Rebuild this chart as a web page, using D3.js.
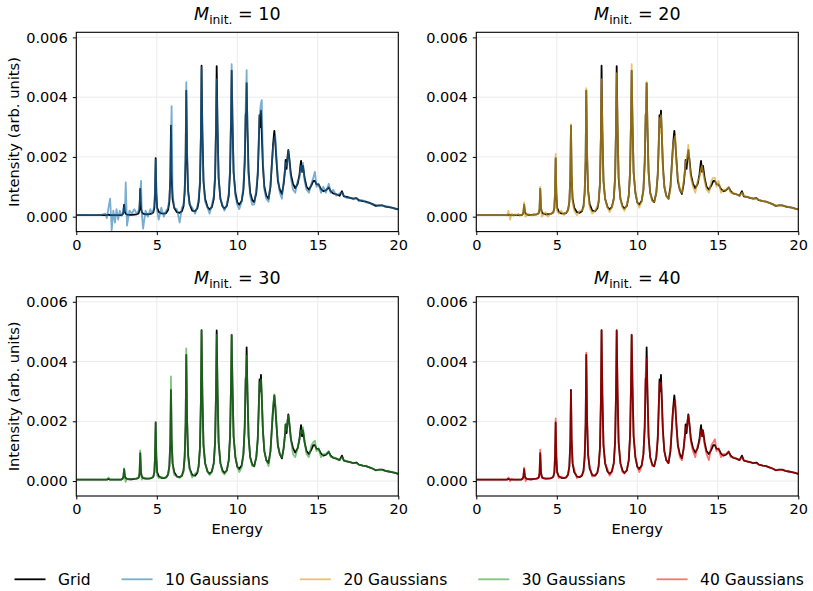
<!DOCTYPE html>
<html>
<head>
<meta charset="utf-8">
<script src="https://cdn.jsdelivr.net/npm/d3@7"></script>
<style>
    body { margin: 0; background: #fff; }
    text { font-family: "DejaVu Sans", sans-serif; fill: #000; }
    .tick text { font-size: 14.5px; }
    .tick line { stroke: #000; }
    .gridline { stroke: #ebebeb; stroke-width: 1; }
    .spec { fill: none; stroke-width: 1.8px; stroke-linejoin: round; }
</style>
</head>
<body>
<div id="chart"></div>

<script>

    // energy sample points (shared by every spectrum)
    var energy = [
        0, 0.5, 1.0, 1.5, 1.8, 1.9, 2.0, 2.1, 2.2, 2.3, 2.4, 2.5, 2.6, 2.7, 2.8,
        2.88, 2.93, 2.97, 3.02, 3.07, 3.15, 3.3, 3.45, 3.6, 3.75,
        3.87, 3.93, 3.97, 4.02, 4.07, 4.15, 4.3, 4.45, 4.6, 4.7,
        4.78, 4.85, 4.89, 4.93, 4.97, 5.02, 5.12, 5.28, 5.44, 5.58,
        5.7, 5.78, 5.84, 5.88, 5.92, 5.98, 6.08, 6.25, 6.42, 6.56,
        6.66, 6.73, 6.79, 6.83, 6.88, 6.94, 7.04, 7.2, 7.38, 7.52,
        7.6, 7.68, 7.74, 7.78, 7.83, 7.9, 8.0, 8.15, 8.28, 8.42,
        8.54, 8.62, 8.68, 8.72, 8.77, 8.84, 8.95, 9.08, 9.2, 9.35,
        9.47, 9.55, 9.61, 9.65, 9.7, 9.77, 9.88, 10.0, 10.12, 10.27,
        10.38, 10.46, 10.52, 10.55, 10.58, 10.63, 10.7, 10.8, 10.93, 11.05, 11.18,
        11.27, 11.33, 11.38, 11.43, 11.47, 11.52, 11.59, 11.68, 11.8, 11.94, 12.06,
        12.14, 12.22, 12.3, 12.36, 12.43, 12.52, 12.64, 12.77, 12.88,
        12.97, 13.0, 13.06, 13.12, 13.17, 13.24, 13.33, 13.46, 13.6, 13.75,
        13.86, 13.92, 13.96, 14.02, 14.08, 14.18, 14.3, 14.45,
        14.6, 14.72, 14.82, 14.92, 15.05, 15.2, 15.35, 15.5, 15.68, 15.8, 15.95, 16.15, 16.35, 16.5, 16.62, 16.8,
        17.0, 17.2, 17.4, 17.55, 17.8, 18.0, 18.2, 18.4, 18.6, 18.8, 19.0, 19.2, 19.4, 19.6, 19.8, 20.0
    ];

    var gridSpec = [
        0.00005, 0.00005, 0.00005, 0.00005, 0.00005, 0.00005, 0.00007, 0.00005, 0.00005, 0.00005, 0.00005, 0.00005, 0.00005, 0.00005, 0.00005,
        0.00008, 0.00015, 0.0004, 0.00016, 0.0001, 0.00007, 0.00006, 0.00006, 0.00007, 0.00008,
        0.00011, 0.00025, 0.00093, 0.00028, 0.00015, 0.0001, 0.00008, 0.00008, 0.00009, 0.00011,
        0.00014, 0.0003, 0.0008, 0.00196, 0.0008, 0.0003, 0.00016, 0.00011, 0.0001, 0.00012,
        0.00022, 0.0005, 0.0013, 0.00305, 0.0014, 0.0006, 0.0003, 0.00015, 0.00013, 0.00018,
        0.00035, 0.0008, 0.0019, 0.00422, 0.0021, 0.0009, 0.00042, 0.0002, 0.00018, 0.00028,
        0.0005, 0.0011, 0.0027, 0.00505, 0.0029, 0.0012, 0.0006, 0.00032, 0.00024, 0.00032,
        0.0006, 0.0013, 0.003, 0.00504, 0.0031, 0.0013, 0.0006, 0.00035, 0.00027, 0.00036,
        0.0007, 0.0015, 0.0032, 0.00489, 0.0032, 0.0015, 0.0008, 0.00048, 0.0004, 0.00052,
        0.0009, 0.0018, 0.0034, 0.0035, 0.00447, 0.003, 0.0015, 0.0008, 0.00055, 0.00049, 0.0008,
        0.0014, 0.0024, 0.0034, 0.003, 0.00355, 0.0028, 0.0017, 0.001, 0.0007, 0.0006, 0.001,
        0.0017, 0.0024, 0.00287, 0.0025, 0.0019, 0.0012, 0.0009, 0.00076, 0.0011,
        0.0016, 0.0019, 0.0016, 0.002, 0.00223, 0.0019, 0.0014, 0.0011, 0.00095, 0.0011,
        0.0014, 0.0017, 0.00187, 0.0015, 0.0017, 0.0013, 0.001, 0.0009,
        0.00105, 0.0012, 0.0012, 0.00108, 0.00108, 0.00092, 0.00085, 0.00088, 0.00098, 0.00085, 0.00078, 0.00075, 0.0007, 0.00085, 0.00068, 0.00066,
        0.00063, 0.0006, 0.00062, 0.00055, 0.00052, 0.0005, 0.00046, 0.00042, 0.00036, 0.00038, 0.00038, 0.00034, 0.00032, 0.0003, 0.00027, 0.00024
    ];

    var gauss10 = [
        0.00005, 0.00005, 0.00006, 0.00005, 0.0001, -0.00005, 0.0003, 0.0006, -0.00045, 0.0002, -0.0002, 0.00025, -0.0001, 0.0002, 0.00003,
        0.0001, 0.0003, 0.00015, 0.0002, 0.00115, -0.0003, 0.0002, 0.0001, 0.00025, 0.0001,
        0.0002, 0.0004, 0.0008, 0.0012, 0.0001, -0.0004, 0.0002, 0.0, 0.00025, 0.0001,
        0.0002, 0.0004, 0.0009, 0.0019, 0.0009, 0.0002, -0.0001, 0.0003, 0.0, 0.0002,
        0.0003, 0.0006, 0.0012, 0.0026, 0.0037, 0.0008, 0.0003, 0.00025, -0.0002, 0.0003,
        0.0004, 0.0009, 0.0022, 0.0045, 0.0022, 0.0008, 0.0004, 0.0003, 0.0001, 0.00035,
        0.0006, 0.0012, 0.0028, 0.005, 0.0027, 0.0012, 0.0005, 0.0003, 0.0001, 0.0004,
        0.0007, 0.0014, 0.0031, 0.0046, 0.003, 0.0013, 0.0006, 0.0004, 0.0002, 0.0004,
        0.0008, 0.0016, 0.0034, 0.0051, 0.0033, 0.0015, 0.0007, 0.0004, 0.00025, 0.0005,
        0.001, 0.0019, 0.0036, 0.0042, 0.0049, 0.0028, 0.0014, 0.0007, 0.0004, 0.0004, 0.0009,
        0.0015, 0.0025, 0.0033, 0.0036, 0.0038, 0.0039, 0.0019, 0.0009, 0.0006, 0.0005, 0.0011,
        0.0017, 0.0023, 0.0026, 0.0027, 0.002, 0.0013, 0.0008, 0.0006, 0.0012,
        0.0016, 0.0018, 0.0017, 0.0019, 0.0022, 0.0018, 0.0013, 0.0009, 0.0008, 0.0012,
        0.0013, 0.0016, 0.0017, 0.0015, 0.0018, 0.0012, 0.0009, 0.0008,
        0.0011, 0.0013, 0.0015, 0.001, 0.0011, 0.0008, 0.001, 0.0008, 0.0011, 0.0008, 0.0009, 0.0007, 0.00078, 0.0008, 0.0007, 0.00062,
        0.00064, 0.00058, 0.00063, 0.00052, 0.00055, 0.00047, 0.00048, 0.0004, 0.0004, 0.00035, 0.00038, 0.00032, 0.00034, 0.00029, 0.00028, 0.00024
    ];

    var gauss20 = [
        0.00005, 0.00005, 0.00005, 0.00005, 0.00005, 0.00004, 0.0002, -0.0001, 0.0001, 0.00003, 0.00008, 0.00005, 0.0001, 0.00003, 0.00006,
        0.00008, 0.0002, 0.00048, 0.0001, 0.0, 0.0001, 0.00008, 0.00004, 0.0001, 0.00006,
        0.00012, 0.0003, 0.001, 0.0003, 0.0, 0.00005, 0.00015, 0.0, 0.0001, 0.00012,
        0.00012, 0.0003, 0.0009, 0.0021, 0.0009, 0.0002, 0.0001, 0.0002, 0.00005, 0.00015,
        0.0002, 0.0005, 0.0014, 0.0031, 0.0015, 0.0005, 0.0002, 0.00005, 0.0002, 0.0002,
        0.0003, 0.0008, 0.002, 0.0043, 0.0022, 0.0009, 0.0003, 0.0001, 0.0002, 0.00035,
        0.0005, 0.0011, 0.0027, 0.0046, 0.0029, 0.0012, 0.0006, 0.0003, 0.00015, 0.0003,
        0.0006, 0.0013, 0.003, 0.0048, 0.0031, 0.0014, 0.0006, 0.0003, 0.0002, 0.0004,
        0.0007, 0.0015, 0.0033, 0.0051, 0.0032, 0.0015, 0.0008, 0.0005, 0.0003, 0.0005,
        0.0009, 0.0018, 0.0034, 0.0036, 0.0045, 0.003, 0.0015, 0.0008, 0.0005, 0.0005, 0.0008,
        0.0014, 0.0024, 0.0033, 0.0028, 0.0034, 0.0029, 0.0016, 0.001, 0.0007, 0.0006, 0.0009,
        0.0017, 0.0024, 0.0026, 0.0027, 0.0018, 0.0013, 0.0009, 0.0008, 0.0012,
        0.0016, 0.0018, 0.0019, 0.0021, 0.0024, 0.0018, 0.0013, 0.001, 0.0008, 0.0012,
        0.0013, 0.0015, 0.0016, 0.0017, 0.0015, 0.0012, 0.0009, 0.0008,
        0.0012, 0.0013, 0.0013, 0.001, 0.0012, 0.0008, 0.0009, 0.0009, 0.001, 0.0008, 0.0008, 0.00074, 0.0007, 0.0008, 0.0007, 0.00066,
        0.00064, 0.0006, 0.0006, 0.00056, 0.00052, 0.0005, 0.00046, 0.00042, 0.00037, 0.00037, 0.00037, 0.00034, 0.00032, 0.0003, 0.00027, 0.00024
    ];

    var gauss30 = [
        0.00005, 0.00005, 0.00005, 0.00005, 0.00005, 0.00005, 0.00012, 0.00004, 0.00005, 0.00005, 0.00005, 0.00005, 0.00005, 0.00005, 0.00005,
        0.00008, 0.00018, 0.00042, 0.0001, -0.00003, 0.00008, 0.00006, 0.00007, 0.00008, 0.00009,
        0.00012, 0.0003, 0.00103, 0.0003, 0.00005, 0.00012, 0.0001, 0.00007, 0.0001, 0.00012,
        0.00014, 0.0003, 0.0008, 0.00198, 0.0008, 0.0002, 0.0001, 0.00014, 0.0001, 0.00013,
        0.0002, 0.0005, 0.0014, 0.0035, 0.0015, 0.0006, 0.0002, 0.00015, 0.0001, 0.0002,
        0.0003, 0.0008, 0.002, 0.00444, 0.0021, 0.0008, 0.0004, 0.00012, 0.00025, 0.0003,
        0.0005, 0.0011, 0.0027, 0.00505, 0.0029, 0.0012, 0.0006, 0.0003, 0.0002, 0.0003,
        0.0006, 0.0013, 0.003, 0.0049, 0.0031, 0.0013, 0.0006, 0.0003, 0.00022, 0.00036,
        0.0007, 0.0015, 0.0032, 0.0049, 0.0032, 0.0015, 0.0008, 0.0005, 0.0003, 0.00045,
        0.0009, 0.0018, 0.0035, 0.0036, 0.0042, 0.003, 0.0015, 0.0008, 0.0005, 0.0005, 0.0008,
        0.0014, 0.0024, 0.0033, 0.003, 0.0034, 0.0028, 0.0017, 0.001, 0.0007, 0.0005, 0.001,
        0.0017, 0.0025, 0.0029, 0.0026, 0.0019, 0.0012, 0.0009, 0.0008, 0.0011,
        0.0016, 0.0019, 0.0017, 0.002, 0.0022, 0.0019, 0.0014, 0.0009, 0.0008, 0.0011,
        0.0014, 0.0016, 0.0017, 0.0016, 0.0018, 0.0013, 0.0009, 0.0008,
        0.0012, 0.0013, 0.00135, 0.001, 0.0011, 0.0008, 0.0009, 0.0009, 0.001, 0.0008, 0.0008, 0.00075, 0.0007, 0.0008, 0.0007, 0.00066,
        0.00063, 0.0006, 0.0006, 0.00055, 0.00052, 0.0005, 0.00046, 0.00042, 0.00037, 0.00037, 0.00037, 0.00034, 0.00032, 0.0003, 0.00027, 0.00024
    ];

    var gauss40 = [
        0.00005, 0.00005, 0.00005, 0.00005, 0.00005, 0.00005, 0.00012, 0.0, 0.00008, 0.00005, 0.00005, 0.00005, 0.00005, 0.00005, 0.00005,
        0.00008, 0.00018, 0.00045, 0.00012, 0.0, 0.00008, 0.00006, 0.00006, 0.00007, 0.00008,
        0.00012, 0.0003, 0.00105, 0.0003, 0.0001, 0.0001, 0.00008, 0.00009, 0.0001, 0.00012,
        0.00014, 0.0003, 0.0009, 0.0021, 0.0009, 0.0003, 0.0001, 0.00015, 0.0001, 0.00012,
        0.0002, 0.0005, 0.0013, 0.003, 0.0014, 0.0006, 0.0004, 0.0001, 0.00015, 0.0002,
        0.0003, 0.0008, 0.002, 0.0043, 0.0021, 0.0009, 0.0005, 0.00015, 0.0002, 0.0003,
        0.0005, 0.0011, 0.0027, 0.00505, 0.0029, 0.0012, 0.0006, 0.0004, 0.00018, 0.0003,
        0.0006, 0.0013, 0.003, 0.00505, 0.0031, 0.0013, 0.0006, 0.0003, 0.00025, 0.00036,
        0.0007, 0.0015, 0.0032, 0.0049, 0.0033, 0.0016, 0.0008, 0.0005, 0.0003, 0.0005,
        0.0009, 0.0018, 0.0036, 0.0037, 0.0041, 0.0029, 0.0015, 0.0008, 0.0005, 0.0005, 0.0008,
        0.0015, 0.0025, 0.0033, 0.0032, 0.0033, 0.0026, 0.0016, 0.001, 0.0007, 0.0006, 0.0011,
        0.0017, 0.0024, 0.0026, 0.0027, 0.0018, 0.0012, 0.0008, 0.0007, 0.0011,
        0.0016, 0.0018, 0.0017, 0.002, 0.0022, 0.0019, 0.0013, 0.001, 0.0008, 0.0012,
        0.0013, 0.0016, 0.0017, 0.0015, 0.0017, 0.0012, 0.0009, 0.0007,
        0.0012, 0.0013, 0.0014, 0.001, 0.0011, 0.0008, 0.0009, 0.0009, 0.001, 0.0008, 0.0008, 0.00075, 0.0007, 0.0008, 0.0007, 0.00066,
        0.00063, 0.0006, 0.0006, 0.00055, 0.00052, 0.0005, 0.00046, 0.00042, 0.00037, 0.00037, 0.00037, 0.00034, 0.00032, 0.0003, 0.00027, 0.00024
    ];

    var xTicks = [0, 5, 10, 15, 20];
    var yTicks = [0, 0.002, 0.004, 0.006];
    var legendLabels = ['Grid', '10 Gaussians', '20 Gaussians', '30 Gaussians', '40 Gaussians'];

    var panels = [
        { m: 10, values: gauss10, color: '#1f77b4', alpha: 0.6,  left: 76.3,  top: 32.3,  yTitle: true,  xTitle: false },
        { m: 20, values: gauss20, color: '#daa520', alpha: 0.65, left: 476.3, top: 32.3,  yTitle: false, xTitle: false },
        { m: 30, values: gauss30, color: '#2ca02c', alpha: 0.6,  left: 76.3,  top: 296.7, yTitle: true,  xTitle: true },
        { m: 40, values: gauss40, color: '#ff0000', alpha: 0.55, left: 476.3, top: 296.7, yTitle: false, xTitle: true }
    ];

    var width = 322;
    var height = 199.3;

    var xScale = d3.scaleLinear().domain([0, 20]).range([0, width]);
    var yScale = d3.scaleLinear().domain([-0.0005, 0.00617]).range([height, 0]);

    var svg = d3.select('#chart').append('svg')
        .attr('width', 813)
        .attr('height', 591);

    svg.append('defs').append('clipPath')
        .attr('id', 'plotclip')
        .append('rect')
        .attr('width', width)
        .attr('height', height);

    var pen = d3.line()
        .x(function(d, i) { return xScale(energy[i]); })
        .y(function(d) { return yScale(d); });

    panels.forEach(function(p) {
        var g = svg.append('g')
            .attr('transform', 'translate(' + p.left + ',' + p.top + ')');

        // grid lines
        g.selectAll('line.gx').data(xTicks).enter().append('line')
            .attr('class', 'gridline')
            .attr('x1', xScale).attr('x2', xScale)
            .attr('y1', 0).attr('y2', height);
        g.selectAll('line.gy').data(yTicks).enter().append('line')
            .attr('class', 'gridline')
            .attr('x1', 0).attr('x2', width)
            .attr('y1', yScale).attr('y2', yScale);

        var plot = g.append('g').attr('clip-path', 'url(#plotclip)');

        plot.append('path')
            .datum(gridSpec)
            .attr('class', 'spec')
            .attr('stroke', '#000')
            .attr('d', pen);

        plot.append('path')
            .datum(p.values)
            .attr('class', 'spec')
            .attr('stroke', p.color)
            .attr('stroke-opacity', p.alpha)
            .attr('d', pen);

        var xAxis = d3.axisBottom(xScale)
            .tickValues(xTicks)
            .tickSize(3.5)
            .tickPadding(4.5)
            .tickFormat(d3.format('d'));
        g.append('g')
            .attr('transform', 'translate(0,' + height + ')')
            .call(xAxis)
            .call(function(a) { a.select('.domain').remove(); });

        var yAxis = d3.axisLeft(yScale)
            .tickValues(yTicks)
            .tickSize(3.5)
            .tickPadding(5)
            .tickFormat(d3.format('.3f'));
        g.append('g')
            .call(yAxis)
            .call(function(a) { a.select('.domain').remove(); });

        g.selectAll('.tick text').attr('fill', '#000');

        // frame
        g.append('rect')
            .attr('width', width)
            .attr('height', height)
            .attr('fill', 'none')
            .attr('stroke', '#000')
            .attr('stroke-width', 1.1);

        // title
        var title = g.append('text')
            .attr('x', width / 2)
            .attr('y', -12.5)
            .attr('text-anchor', 'middle')
            .style('font-size', '17.5px');
        title.append('tspan').style('font-style', 'italic').text('M');
        title.append('tspan').attr('dy', 3.8).style('font-size', '12.3px').text('init.');
        title.append('tspan').attr('dy', -3.8).text(' = ' + p.m);

        if (p.yTitle) {
            g.append('text')
                .attr('transform', 'translate(' + (18.5 - p.left) + ',' + (height / 2) + ') rotate(-90)')
                .attr('text-anchor', 'middle')
                .style('font-size', '14.7px')
                .text('Intensity (arb. units)');
        }
        if (p.xTitle) {
            g.append('text')
                .attr('x', width / 2)
                .attr('y', 534 - p.top)
                .attr('text-anchor', 'middle')
                .style('font-size', '14.7px')
                .text('Energy');
        }
    });

    // legend along the bottom
    var legendColors = ['#000'].concat(panels.map(function(p) { return p.color; }));
    var legendAlpha = [1].concat(panels.map(function(p) { return p.alpha; }));
    var lx = 14.5;
    legendLabels.forEach(function(label, i) {
        svg.append('line')
            .attr('x1', lx).attr('x2', lx + 31)
            .attr('y1', 579.3).attr('y2', 579.3)
            .attr('stroke', legendColors[i])
            .attr('stroke-opacity', legendAlpha[i])
            .attr('stroke-width', 1.8);
        var t = svg.append('text')
            .attr('x', lx + 43.5)
            .attr('y', 584.8)
            .style('font-size', '15.5px')
            .text(label);
        lx = lx + 43.5 + t.node().getComputedTextLength() + 31;
    });

</script>
</body>
</html>
